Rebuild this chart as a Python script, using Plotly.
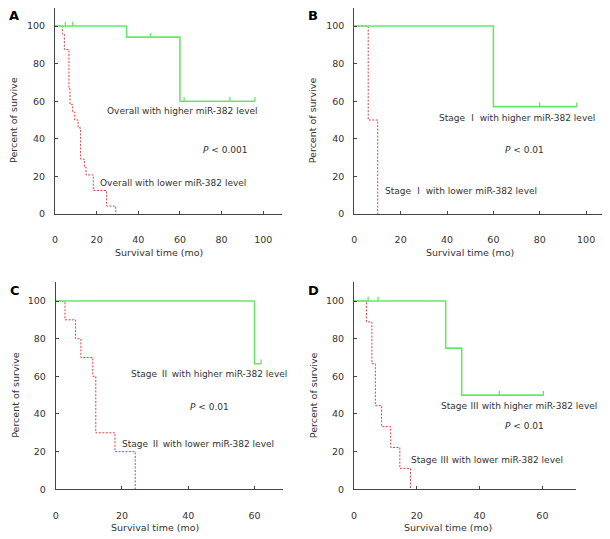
import plotly.graph_objects as go

# the page body keeps its default 8px margin, so the figure is drawn 8px in
PAGE_W, PAGE_H, OFF = 610, 539, 8
W, H = PAGE_W - OFF, PAGE_H - OFF

# Panel A - overall
a_hi_t = [0, 34.4, 60, 96]
a_hi_s = [100, 94.1, 60, 60]
a_hi_ct = [5, 8.5, 46, 62, 84, 96]
a_hi_cs = [100, 100, 94.1, 60, 60, 60]
a_lo_t = [0, 3.5, 4.5, 6.7, 7.2, 8.5, 9.5, 11.1, 12.3, 14.1, 14.9, 18.4, 24.8, 29.2]
a_lo_s = [100, 95.8, 87.5, 66.7, 58.3, 54.2, 50, 45.8, 29.2, 25, 20.8, 12.5, 4.2, 0]

# Panel B - stage I
b_hi_t = [0, 60, 96]
b_hi_s = [100, 57.1, 57.1]
b_hi_ct = [80, 96]
b_hi_cs = [57.1, 57.1]
b_lo_t = [0, 6, 10.1]
b_lo_s = [100, 50, 0]

# Panel C - stage II
c_hi_t = [0, 60, 62]
c_hi_s = [100, 66.7, 66.7]
c_hi_ct = [62]
c_hi_cs = [66.7]
c_lo_t = [0, 2.8, 6, 7.6, 11.2, 12.1, 17.9, 24]
c_lo_s = [100, 90, 80, 70, 60, 30, 20, 0]

# Panel D - stage III
d_hi_t = [0, 29.2, 34.3, 60.3]
d_hi_s = [100, 75, 50, 50]
d_hi_ct = [4.5, 7.7, 46.3, 60.3]
d_hi_cs = [100, 100, 50, 50]
d_lo_t = [0, 4, 5.7, 6.8, 8.8, 11.7, 14.6, 18]
d_lo_s = [100, 88.9, 66.7, 44.4, 33.3, 22.2, 11.1, 0]

x_ticks_100 = [0, 20, 40, 60, 80, 100]
x_ticks_60 = [0, 20, 40, 60]
y_ticks = [0, 20, 40, 60, 80, 100]

GREEN = "#66e866"
RED = "#e04040"
AX = "#444444"
TXT = "#333333"
FONT = "DejaVu Sans"


def px_x(px):
    return (px - OFF) / W


def px_y(py):
    return 1 - (py - OFF) / H


# pixel boxes of the plot areas (page coords): x0, x1, ytop, y at 100, y at 0, xmax
boxes = {
    "A": (55, 282, 8, 26, 214, 109, x_ticks_100),
    "B": (354.3, 607, 8, 26, 214, 109, x_ticks_100),
    "C": (55.7, 283, 281.7, 301, 489.3, 68.6, x_ticks_60),
    "D": (354, 576, 281.7, 301, 489.3, 70.7, x_ticks_60),
}

panels = [
    ("A", a_hi_t, a_hi_s, a_hi_ct, a_hi_cs, a_lo_t, a_lo_s),
    ("B", b_hi_t, b_hi_s, b_hi_ct, b_hi_cs, b_lo_t, b_lo_s),
    ("C", c_hi_t, c_hi_s, c_hi_ct, c_hi_cs, c_lo_t, c_lo_s),
    ("D", d_hi_t, d_hi_s, d_hi_ct, d_hi_cs, d_lo_t, d_lo_s),
]

fig = go.Figure()
layout = {}
annos = []


def note(text, px, py, size=9, **kw):
    d = dict(text=text, x=px_x(px), y=px_y(py), xref="paper", yref="paper",
             xanchor="center", yanchor="middle", showarrow=False,
             font=dict(family=FONT, size=size, color=kw.pop("color", TXT)))
    d.update(kw)
    annos.append(d)


for i, (key, ht, hs, ct, cs, lt, ls) in enumerate(panels):
    n = "" if i == 0 else str(i + 1)
    xr, yr = "x" + n, "y" + n
    x0, x1, yt, y100, yb, xmax, xt = boxes[key]
    ymax = (yb - yt) / ((yb - y100) / 100)
    fig.add_trace(go.Scatter(x=lt, y=ls, mode="lines", line_shape="hv",
                             line=dict(color=RED, width=1, dash="2px,1.5px"),
                             xaxis=xr, yaxis=yr, showlegend=False))
    fig.add_trace(go.Scatter(x=ht, y=hs, mode="lines", line_shape="hv",
                             line=dict(color=GREEN, width=1.6),
                             xaxis=xr, yaxis=yr, showlegend=False))
    # censor marks
    fig.add_trace(go.Scatter(x=ct, y=cs, mode="markers", marker=dict(size=1, color=GREEN),
                             error_y=dict(type="data", symmetric=False, array=[2.2] * len(ct),
                                          arrayminus=[0] * len(ct), thickness=1.3, width=0,
                                          color=GREEN),
                             xaxis=xr, yaxis=yr, showlegend=False))
    axis_common = dict(showline=True, linecolor=AX, linewidth=1, ticks="inside", ticklen=3,
                       tickcolor=AX, tickwidth=1, showgrid=False, zeroline=False,
                       automargin=False,
                       tickfont=dict(family=FONT, size=9.5, color=TXT))
    layout["xaxis" + n] = dict(domain=[px_x(x0), px_x(x1)], range=[0, xmax], tickvals=xt,
                               anchor=yr, ticklabelstandoff=17, **axis_common)
    layout["yaxis" + n] = dict(domain=[px_y(yb), px_y(yt)], range=[0, ymax], tickvals=y_ticks,
                               anchor=xr, ticklabelstandoff=7, **axis_common)
    # axis titles
    xc = (x0 + x0 + (x1 - x0) * (xt[-1] / xmax)) / 2
    note("Survival time (mo)", xc, yb + 38, size=9.5)
    note("Percent of survive", x0 - 41, (y100 + yb) / 2, size=9.5, textangle=-90)
    note("<b>" + key + "</b>", x0 - 41, y100 - 11, size=13, color="#000000")

CJK = "font-family:Noto Sans CJK SC"


def stage(num):
    return "Stage <span style='" + CJK + "'>" + num + "</span> with"


labels = [
    ("Overall with higher miR-382 level", 182, 111),
    ("<i>P</i> &lt; 0.001", 225, 150),
    ("Overall with lower miR-382 level", 173, 183),
    (stage("Ⅰ") + " higher miR-382 level", 517, 117),
    ("<i>P</i> &lt; 0.01", 524, 150),
    (stage("Ⅰ") + " lower miR-382 level", 461, 190),
    (stage("Ⅱ") + " higher miR-382 level", 209, 373),
    ("<i>P</i> &lt; 0.01", 209, 407),
    (stage("Ⅱ") + " lower miR-382 level", 198, 443),
    (stage("Ⅲ") + " higher miR-382 level", 519, 405),
    ("<i>P</i> &lt; 0.01", 524, 426),
    (stage("Ⅲ") + " lower miR-382 level", 487, 459),
]
for txt, px, py in labels:
    note(txt, px, py)

fig.update_layout(width=W, height=H, margin=dict(l=0, r=0, t=0, b=0),
                  plot_bgcolor="white", paper_bgcolor="white", annotations=annos, **layout)

fig.write_html("out.html")
